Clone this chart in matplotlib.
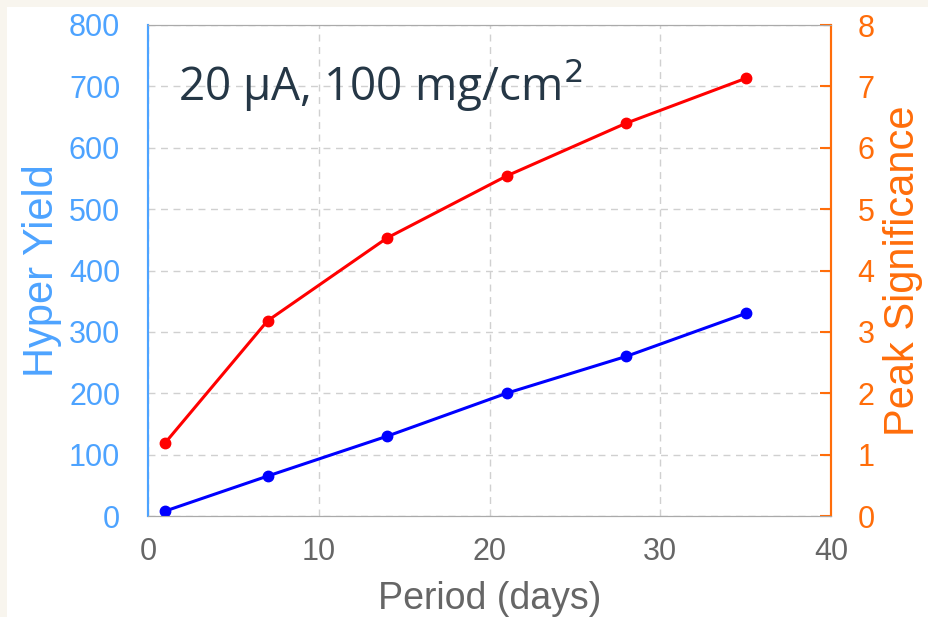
import matplotlib
matplotlib.use('Agg')
import matplotlib.pyplot as plt
from matplotlib.patches import Rectangle

# data
period_days = [1, 7, 14, 21, 28, 35]
hyper_yield = [8, 65, 130, 200, 260, 330]
peak_significance = [1.19, 3.18, 4.53, 5.54, 6.40, 7.13]

x_ticks = [0, 10, 20, 30, 40]
yield_ticks = [0, 100, 200, 300, 400, 500, 600, 700, 800]
sig_ticks = [0, 1, 2, 3, 4, 5, 6, 7, 8]

blue_axis = '#4da3ff'
orange_axis = '#ff6d0a'
grey = '#666666'

plt.rcParams['font.family'] = ['Liberation Sans', 'DejaVu Sans']

fig = plt.figure(figsize=(9.29, 6.17), dpi=100)
fig.patch.set_facecolor('#f8f5ee')
# white panel, cream strip on the top and left edge
fig.add_artist(Rectangle((7 / 929, 0), 1, 1 - 7 / 617, transform=fig.transFigure,
                         facecolor='white', edgecolor='none', zorder=-10))

ax = fig.add_axes([148 / 929, 1 - 516 / 617, (831 - 148) / 929, (516 - 25) / 617])
ax2 = ax.twinx()

ax.plot(period_days, hyper_yield, color='#0000ff', lw=2.2, marker='o', ms=7.5, zorder=3)
ax2.plot(period_days, peak_significance, color='#ff0000', lw=2.2, marker='o', ms=7.5, zorder=3)

ax.set_xlim(0, 40)
ax.set_ylim(0, 800)
ax2.set_ylim(0, 8)
ax.set_xticks(x_ticks)
ax.set_yticks(yield_ticks)
ax2.set_yticks(sig_ticks)

ax.grid(True, color='#d0d0d0', linestyle=(0, (5, 4)), linewidth=1)
ax.set_axisbelow(True)

ax.tick_params(axis='x', length=0, pad=15, labelsize=22, labelcolor=grey)
ax.tick_params(axis='y', length=0, pad=20, labelsize=22, labelcolor=blue_axis)
ax2.tick_params(axis='y', direction='in', length=8, width=1.5, color=orange_axis,
                pad=19, labelsize=22, labelcolor=orange_axis)

for a in (ax, ax2):
    a.spines['top'].set_color('#aaaaaa')
    a.spines['bottom'].set_color('#aaaaaa')
    a.spines['left'].set_color(blue_axis)
    a.spines['right'].set_color(orange_axis)
    a.spines['left'].set_linewidth(1.5)
    a.spines['right'].set_linewidth(1.5)

ax.set_xlabel('Period (days)', fontsize=27, color=grey, labelpad=10)
ax.set_ylabel('Hyper Yield', fontsize=30, color=blue_axis, labelpad=5)
ax2.set_ylabel('Peak Significance', fontsize=30, color=orange_axis, labelpad=6)

ax.text(178 / 929, 1 - 100 / 617, '20 \u03bcA, 100 mg/cm$^2$', transform=fig.transFigure,
        fontsize=33, color='#253746', family=['Open Sans', 'DejaVu Sans'],
        ha='left', va='baseline')

fig.savefig('out.png', dpi=100, facecolor=fig.get_facecolor())
